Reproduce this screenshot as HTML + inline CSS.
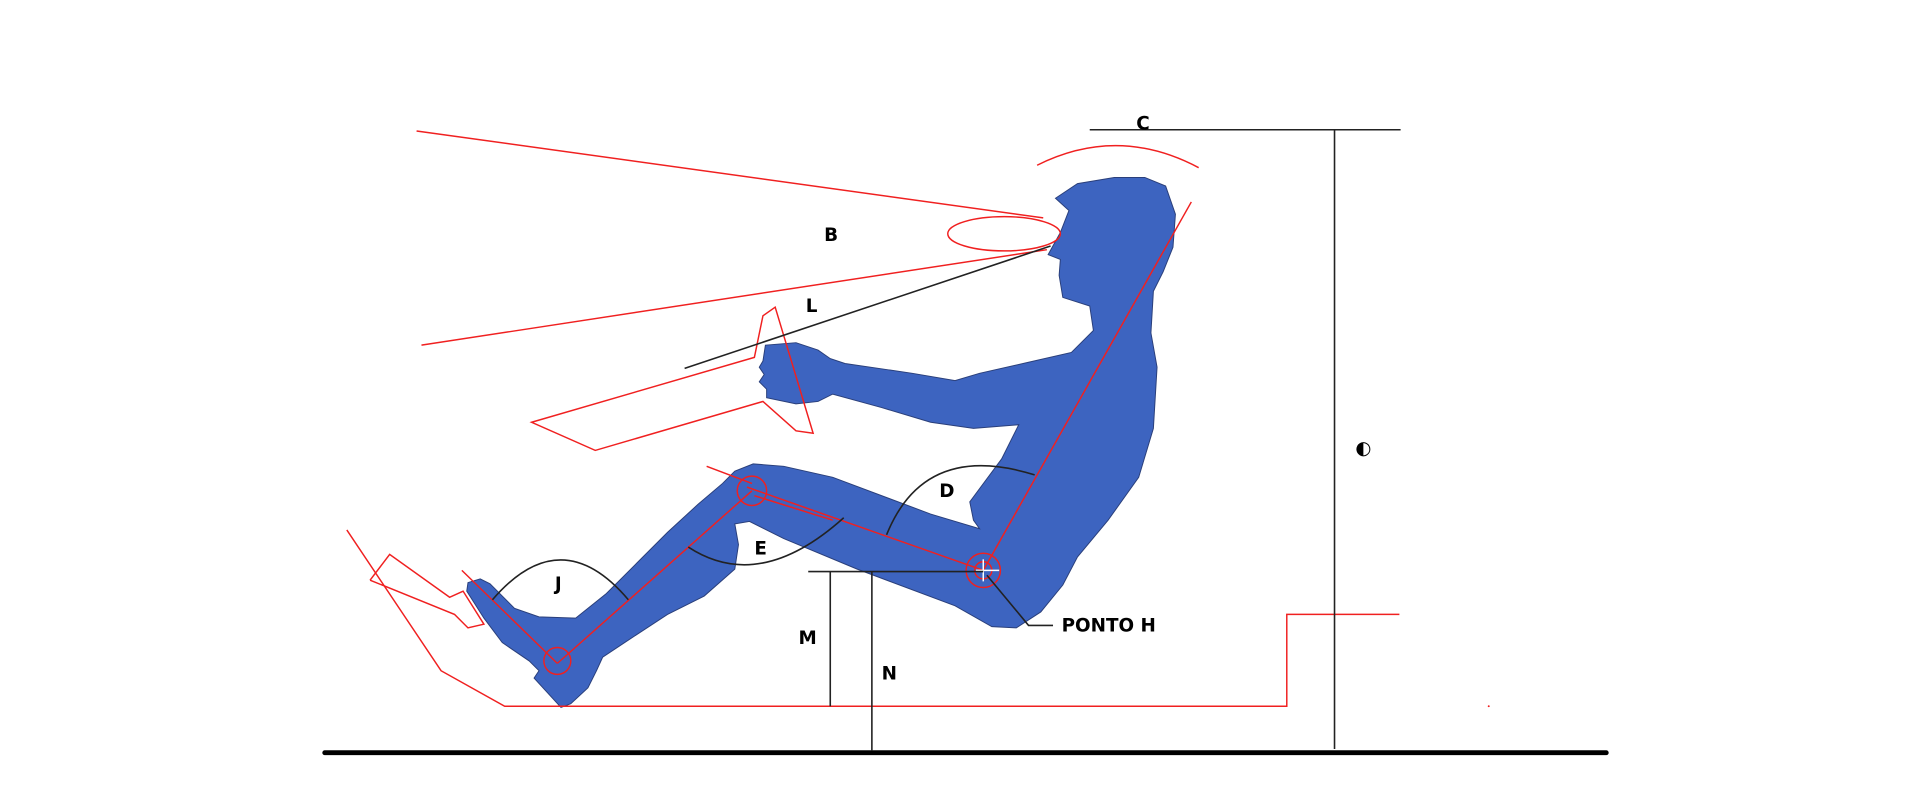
<!DOCTYPE html>
<html><head><style>
html,body{margin:0;padding:0;background:#fff;}
svg{display:block;}
text{font-family:"DejaVu Sans","Liberation Sans",sans-serif;font-weight:bold;font-size:15px;fill:#000;}
</style></head><body>
<svg width="1920" height="798" viewBox="0 0 1568 652" xmlns="http://www.w3.org/2000/svg">
<rect width="1568" height="652" fill="#fff"/>
<!-- body silhouette -->
<path fill="#3d64c0" stroke="#2a3f7a" stroke-width="0.8" d="M862,162 L873,172 L866,190 L856,208 L866,212 L865,225 L868,243 L890,250 L893,270 L875,288 L840,296 L800,305 L780,311 L745,305 L690,297 L678,293 L668,286 L650,280 L625,282 L623,295 L620,300 L624,306 L620,312 L626,318 L626,325 L650,330 L668,328 L680,322 L720,333 L760,345 L795,350 L832,347 L818,375 L792,410 L795,425 L800,432 L760,420 L680,390 L640,381 L615,379 L600,385 L590,395 L570,412 L545,435 L520,460 L495,485 L470,505 L440,504 L420,497 L400,477 L392,473 L382,476 L381,483 L395,505 L410,525 L432,540 L440,548 L436,554 L458,578 L466,575 L480,562 L487,548 L492,537 L510,525 L545,502 L575,487 L600,465 L603,445 L600,428 L612,426 L640,440 L700,465 L780,495 L810,512 L830,513 L850,500 L868,478 L880,455 L905,425 L930,390 L942,350 L945,300 L940,272 L942,238 L950,222 L958,202 L960,175 L952,152 L935,145 L910,145 L880,150 Z"/>
<g fill="none" stroke="#f02020" stroke-width="1.2">
<line x1="340" y1="107" x2="852" y2="178"/>
<line x1="344" y1="282" x2="855" y2="204"/>
<ellipse cx="820" cy="191" rx="46" ry="14"/>
<polygon points="434,345 616,292 623,258 633,251 664,354 650,352 623,328 486,368"/>
<path d="M847,135 Q913,102 979,137"/>
<line x1="803" y1="466" x2="973" y2="165"/>
<polyline points="283,433 360,548 412,577 1051,577 1051,502 1143,502"/>
<polyline points="302,474 318,453 367,488 378,483 395,510 382,513 371,502 302,474"/>
<line x1="377" y1="466" x2="455" y2="542"/>
<line x1="455" y1="542" x2="614" y2="401"/>
<line x1="610" y1="398" x2="803" y2="466"/>
<line x1="616" y1="405" x2="680" y2="425"/>
<line x1="577" y1="381" x2="614" y2="395"/>
<circle cx="455" cy="540" r="11"/>
<circle cx="614" cy="401" r="12"/>
<circle cx="803" cy="466" r="14"/>
<circle cx="803" cy="466" r="7"/>
</g>
<line x1="797" y1="466" x2="816" y2="466" stroke="#fff" stroke-width="1.2"/>
<line x1="803" y1="457" x2="803" y2="475" stroke="#fff" stroke-width="1.2"/>
<circle cx="1216" cy="577" r="0.8" fill="#f02020"/>
<g fill="none" stroke="#222" stroke-width="1.3">
<line x1="559" y1="301" x2="858" y2="201"/>
<line x1="890" y1="106" x2="1144" y2="106"/>
<line x1="1090" y1="106" x2="1090" y2="612"/>
<path d="M402,490 Q458,425 513,490"/>
<path d="M562,447 Q620,485 689,423"/>
<path d="M724,437 Q755,360 845,388"/>
<line x1="660" y1="467" x2="803" y2="467"/>
<line x1="678" y1="467" x2="678" y2="577"/>
<line x1="712" y1="467" x2="712" y2="613"/>
<polyline points="806,470 840,511 860,511"/>
</g>
<line x1="265" y1="615" x2="1312" y2="615" stroke="#000" stroke-width="4" stroke-linecap="round"/>
<text x="928" y="106">C</text>
<text x="673" y="197">B</text>
<text x="658" y="255">L</text>
<text x="767" y="406">D</text>
<text x="616" y="453">E</text>
<text x="453" y="482">J</text>
<text x="652" y="526">M</text>
<text x="720" y="555">N</text>
<text x="867" y="516">PONTO H</text>
<text x="1107" y="371">◐</text>
</svg>
</body></html>
